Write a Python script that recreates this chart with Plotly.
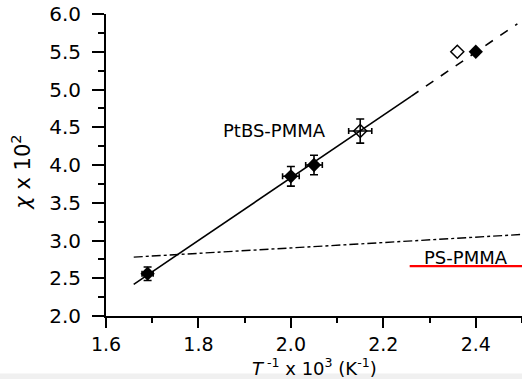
import plotly.graph_objects as go

# Data
filled_x = [1.69, 2.00, 2.05]
filled_y = [2.56, 3.85, 4.00]
filled_ex = [0.012, 0.018, 0.018]
filled_ey = [0.09, 0.13, 0.13]

open_x = [2.15]
open_y = [4.45]
open_ex = [0.025]
open_ey = [0.16]

open2_x = [2.36]
open2_y = [5.50]

filled2_x = [2.40]
filled2_y = [5.50]

solid_fit_x = [1.66, 2.26]
solid_fit_y = [2.42, 4.91]
dash_fit_x = [2.26, 2.49]
dash_fit_y = [4.91, 5.87]

ps_x = [1.66, 2.50]
ps_y = [2.78, 3.08]

red_x = [2.257, 2.50]
red_y = [2.66, 2.66]

x_ticks = [1.6, 1.8, 2.0, 2.2, 2.4]
y_ticks = [2.0, 2.5, 3.0, 3.5, 4.0, 4.5, 5.0, 5.5, 6.0]

FONT = "DejaVu Sans"

fig = go.Figure()

fig.add_trace(go.Scatter(x=solid_fit_x, y=solid_fit_y, mode="lines",
                         line=dict(color="black", width=1.6), showlegend=False))
fig.add_trace(go.Scatter(x=dash_fit_x, y=dash_fit_y, mode="lines",
                         line=dict(color="black", width=1.6, dash="dash"), showlegend=False))
fig.add_trace(go.Scatter(x=ps_x, y=ps_y, mode="lines",
                         line=dict(color="black", width=1.4, dash="dashdot"), showlegend=False))
fig.add_trace(go.Scatter(x=red_x, y=red_y, mode="lines",
                         line=dict(color="red", width=2.2), showlegend=False, cliponaxis=False))

fig.add_trace(go.Scatter(
    x=filled_x, y=filled_y, mode="markers",
    marker=dict(symbol="diamond", size=11, color="black"),
    error_x=dict(type="data", array=filled_ex, color="black", thickness=1.6, width=3),
    error_y=dict(type="data", array=filled_ey, color="black", thickness=1.6, width=4),
    showlegend=False))
fig.add_trace(go.Scatter(
    x=open_x, y=open_y, mode="markers",
    marker=dict(symbol="diamond-open", size=10, color="black", line=dict(width=1.5)),
    error_x=dict(type="data", array=open_ex, color="black", thickness=1.6, width=3),
    error_y=dict(type="data", array=open_ey, color="black", thickness=1.6, width=4),
    showlegend=False))
fig.add_trace(go.Scatter(
    x=open2_x, y=open2_y, mode="markers",
    marker=dict(symbol="diamond-open", size=10, color="black", line=dict(width=1.5)),
    showlegend=False))
fig.add_trace(go.Scatter(
    x=filled2_x, y=filled2_y, mode="markers",
    marker=dict(symbol="diamond", size=11, color="black"),
    showlegend=False))

fig.add_annotation(x=1.965, y=4.46, text="PtBS-PMMA", showarrow=False,
                   font=dict(family=FONT, size=18, color="black"))
fig.add_annotation(x=2.378, y=2.77, text="PS-PMMA", showarrow=False,
                   font=dict(family=FONT, size=18, color="black"))

fig.add_annotation(xref="paper", yref="paper", x=0.5, y=-0.168,
                   text="<i>T</i><sup> -1</sup> x 10<sup>3</sup> (K<sup>-1</sup>)",
                   showarrow=False, font=dict(family=FONT, size=18, color="black"),
                   yanchor="middle")
fig.add_annotation(xref="paper", yref="paper", x=-0.205, y=0.477,
                   text="<i>χ</i> x 10<sup>2</sup>", textangle=-90,
                   showarrow=False, font=dict(family=FONT, size=21, color="black"),
                   xanchor="center", yanchor="middle")

# light grey strip at bottom of the image
fig.add_shape(type="rect", xref="paper", yref="paper", x0=-0.3, x1=1.1,
              y0=-0.215, y1=-0.19, fillcolor="#f0f0f0", line=dict(width=0),
              layer="below")

fig.update_xaxes(range=[1.6, 2.5], tickvals=x_ticks, ticktext=[f"{v:.1f}" for v in x_ticks],
                 showline=True, linecolor="black", linewidth=2, showgrid=False,
                 zeroline=False, ticks="outside", ticklen=10, tickwidth=2, tickcolor="black",
                 minor=dict(dtick=0.1, ticks="outside", ticklen=5, tickwidth=2, tickcolor="black"),
                 tickfont=dict(family=FONT, size=19, color="black"), ticklabelstandoff=0)
fig.update_yaxes(range=[2.0, 6.0], tickvals=y_ticks, ticktext=[f"{v:.1f}" for v in y_ticks],
                 showline=True, linecolor="black", linewidth=2, showgrid=False,
                 zeroline=False, ticks="outside", ticklen=12, tickwidth=2, tickcolor="black",
                 minor=dict(dtick=0.25, ticks="outside", ticklen=6, tickwidth=2, tickcolor="black"),
                 tickfont=dict(family=FONT, size=20, color="black"), ticklabelstandoff=7)

fig.update_layout(width=522, height=379, margin=dict(l=106, r=0, t=14, b=63),
                  plot_bgcolor="white", paper_bgcolor="white", showlegend=False)

fig.write_html("out.html")
